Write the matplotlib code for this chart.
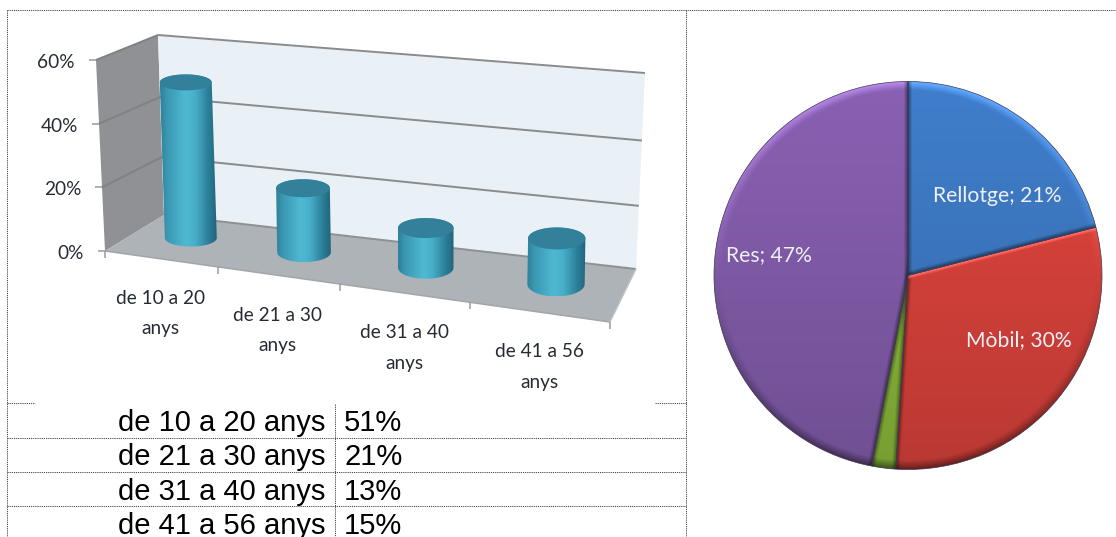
# plot.py - age groups (3D style cylinders), table of shares and pie of what people wear

import numpy as np
import matplotlib
matplotlib.use("Agg")
import matplotlib.pyplot as plt
from matplotlib.colors import to_rgb
from matplotlib.path import Path

W, H = 1116, 537

# data
age_groups = ["de 10 a 20 anys", "de 21 a 30 anys", "de 31 a 40 anys", "de 41 a 56 anys"]
age_values = [51, 21, 13, 15]
y_ticks = [0, 20, 40, 60]

pie_names = ["Rellotge", "Mòbil", "", "Res"]
pie_values = [21, 30, 2, 47]
pie_colors = ["#3a73ba", "#cf3f39", "#84b038", "#7d58a3"]

# 3D box corners in pixels: front-left, front-right, back-right, back-left
FLOOR = [(105, 251), (610, 322), (636, 269), (164, 215)]
ROOF = [(96, 60), (628, 122), (645, 73), (158, 35)]
Y_MAX = 60
BAR_DEPTH = 0.55
BAR_SCALE = 3.05


def corner_mix(corners, s, d):
    fl, fr, br, bl = [np.array(c, float) for c in corners]
    return (fl + (fr - fl) * s) * (1 - d) + (bl + (br - bl) * s) * d


def project(u, d, v):
    """u: category position (0-4), d: depth (0-1), v: value in percent -> pixels"""
    t = u / len(age_groups)
    s = 0.86 * t + 0.14 * t ** 2
    k = v / Y_MAX
    k = k - 0.05 * d * k * (1 - k)
    a = corner_mix(FLOOR, s, d)
    b = corner_mix(ROOF, s, d)
    return a + (b - a) * k


def polygon(ax, pts, color, z=1):
    ax.fill([p[0] for p in pts], [p[1] for p in pts], color=color, lw=0, zorder=z)


def segment(ax, p, q, color="#8b8b8b", lw=1.4, z=2):
    ax.plot([p[0], q[0]], [p[1], q[1]], color=color, lw=lw, zorder=z, solid_capstyle="butt")


def draw_cylinder(ax, u, value):
    bottom = project(u, BAR_DEPTH, 0)
    # the columns lean a little towards the vanishing point
    top = bottom + np.array([(u - 2.5) * 0.05 * value, -BAR_SCALE * value])
    rx = 25.5 + 0.9 * u
    ry_top = 7.5 + 1.0 * u
    ry_bot = 8 + 1.2 * u
    t = np.linspace(0, np.pi, 40)
    # body outline: lower half of the bottom ellipse and the upper half of the top one
    low = np.c_[bottom[0] + rx * np.cos(t), bottom[1] + ry_bot * np.sin(t)]
    up = np.c_[top[0] - rx * np.cos(t), top[1] - ry_top * np.sin(t)]
    body = Path(np.vstack([low, up, low[:1]]), closed=False)

    stops = np.array([0, 0.12, 0.45, 0.62, 0.85, 1])
    cols = np.array([to_rgb(c) for c in ["#2f8098", "#3a97b2", "#4fb9d3", "#47aec9", "#2c7f99", "#22657c"]])
    x = np.linspace(0, 1, 128)
    grad = np.stack([np.interp(x, stops, cols[:, i]) for i in range(3)], axis=-1)[None, :, :]
    x0 = min(bottom[0], top[0]) - rx
    x1 = max(bottom[0], top[0]) + rx
    im = ax.imshow(grad, extent=[x0, x1, bottom[1] + ry_bot, top[1] - ry_top],
                   aspect="auto", zorder=4, interpolation="bilinear")
    im.set_clip_path(body, ax.transData)

    t = np.linspace(0, 2 * np.pi, 80)
    ax.fill(top[0] + rx * np.cos(t), top[1] + ry_top * np.sin(t), color="#33809a", lw=0, zorder=5)


def draw_box(ax):
    n = len(age_groups)
    # left wall, back wall, floor
    polygon(ax, [project(0, 0, 0), project(0, 1, 0), project(0, 1, 40), project(0, 1, Y_MAX), project(0, 0, Y_MAX)], "#8f9194")
    back = [project(0, 1, v) for v in [0, 20, 40, 60]] + [project(n, 1, v) for v in [60, 40, 20, 0]]
    polygon(ax, back, "#e9f0f6")
    polygon(ax, [project(0, 0, 0), project(n, 0, 0), project(n, 1, 0), project(0, 1, 0)], "#aeb3b7")

    for v in y_ticks:
        if v > 0:
            segment(ax, project(0, 1, v), project(n, 1, v))
            segment(ax, project(0, 0, v), project(0, 1, v), color="#7f8183")
        front = project(0, 0, v)
        segment(ax, front + np.array([-7, 0]), front, color="#9a9a9a", lw=1.1)
        ax.text(front[0] - 21, front[1] + 2.5, f"{v}%", ha="right", va="center",
                fontsize=CHART_FS, color="#262a33", zorder=6)

    segment(ax, project(0, 1, 0), project(n, 1, 0), color="#8e9092")
    segment(ax, project(0, 0, 0), project(n, 0, 0), color="#a3a5a8", lw=1.1)
    segment(ax, project(n, 0, 0), project(n, 1, 0), color="#c2c5c8", lw=1)
    for i in range(n + 1):
        p = project(i, 0, 0)
        segment(ax, p, p + np.array([0, 7]), color="#9a9a9a", lw=1.1)


def draw_category_labels(ax):
    for i, name in enumerate(age_groups):
        p = project(i + 0.5, 0, 0)
        first, second = name.rsplit(" ", 1)
        ax.text(p[0], p[1] + 55, first + "\n" + second, ha="center", va="center",
                fontsize=CHART_FS, color="#262a33", linespacing=1.95, zorder=6)


def draw_table(ax):
    dash = dict(color="#444444", lw=0.7, ls=(0, (1.2, 1.0)), zorder=8)
    ax.plot([7, W], [10, 10], **dash)
    ax.plot([7, 7], [10, H], **dash)
    ax.plot([685.5, 685.5], [10, H], **dash)
    ax.plot([334.5, 334.5], [404, H], **dash)
    for y in [437.5, 472, 506]:
        ax.plot([7, 685.5], [y, y], **dash)
    ax.plot([7, 35], [403, 403], **dash)
    ax.plot([655, 685.5], [403, 403], **dash)
    for name, value, y in zip(age_groups, age_values, [423, 457, 492, 526]):
        ax.text(325, y, name, ha="right", va="center", fontsize=TABLE_FS,
                family="Liberation Sans", color="black")
        ax.text(344, y, f"{value}%", ha="left", va="center", fontsize=TABLE_FS,
                family="Liberation Sans", color="black")


def shade_wedge(ax, wedge, color):
    n = 500
    xs, ys = np.meshgrid(np.linspace(-1.03, 1.03, n), np.linspace(1.03, -1.03, n))
    r = np.hypot(xs, ys)
    base = np.array(to_rgb(color))
    img = base[None, None, :] * (1 + 0.10 * ys)[..., None]

    # bevel along the rim, light on top and dark below
    rim = np.clip((r - 0.955) / 0.045, 0, 1)[..., None]
    up = np.clip(ys, 0, 1)[..., None]
    down = np.clip(-ys, 0, 1)[..., None]
    img = img + (1.35 * base + 0.12 - img) * rim * up * 0.9
    img = img * (1 - 0.45 * rim * down)

    # bevel along both straight sides of the slice
    for angle, side in [(wedge.theta1, -90), (wedge.theta2, 90)]:
        a = np.radians(angle)
        ex, ey = np.cos(a), np.sin(a)
        dist = np.abs(xs * ey - ys * ex)
        strip = np.clip(1 - dist / 0.022, 0, 1)[..., None]
        if np.sin(a + np.radians(side)) > 0.3:
            img = img + (1.3 * base + 0.2 - img) * strip
        else:
            img = img * (1 - 0.45 * strip)

    im = ax.imshow(np.clip(img, 0, 1), extent=[-1.03, 1.03, -1.03, 1.03], zorder=2, interpolation="bilinear")
    im.set_clip_path(wedge)


def draw_pie(fig):
    cx, cy, radius = 908, 275.5, 194
    pad = 1.03
    size = radius * pad
    ax = fig.add_axes([(cx - size) / W, 1 - (cy + size) / H, 2 * size / W, 2 * size / H])
    wedges, _ = ax.pie(pie_values, colors=pie_colors, startangle=90, counterclock=False,
                       wedgeprops=dict(edgecolor="#3b3550", linewidth=0.5))
    for wedge, color in zip(wedges, pie_colors):
        wedge.set_zorder(3)
        wedge.set_facecolor("none")
        shade_wedge(ax, wedge, color)
    ax.set_xlim(-pad, pad)
    ax.set_ylim(-pad, pad)
    ax.set_axis_off()


TABLE_FS = 21
CHART_FS = 13.7
PIE_FS = 15.2

plt.rcParams["font.family"] = ["Lato", "DejaVu Sans"]

fig = plt.figure(figsize=(W / 100, H / 100), dpi=100, facecolor="white")

draw_pie(fig)

ax = fig.add_axes([0, 0, 1, 1])
draw_box(ax)
for i, value in enumerate(age_values):
    draw_cylinder(ax, i + 0.5, value)
draw_category_labels(ax)
draw_table(ax)

# slice captions, the small green slice has none
for name, value, pos in zip(pie_names, pie_values, [(997, 196), (1019, 340), None, (769, 255)]):
    if name:
        ax.text(pos[0], pos[1], f"{name}; {value}%", ha="center", va="center",
                fontsize=PIE_FS, color="#eef0f4", zorder=9)

ax.set_xlim(0, W)
ax.set_ylim(H, 0)
ax.set_aspect("auto")
ax.set_axis_off()

fig.savefig("out.png", dpi=100)
